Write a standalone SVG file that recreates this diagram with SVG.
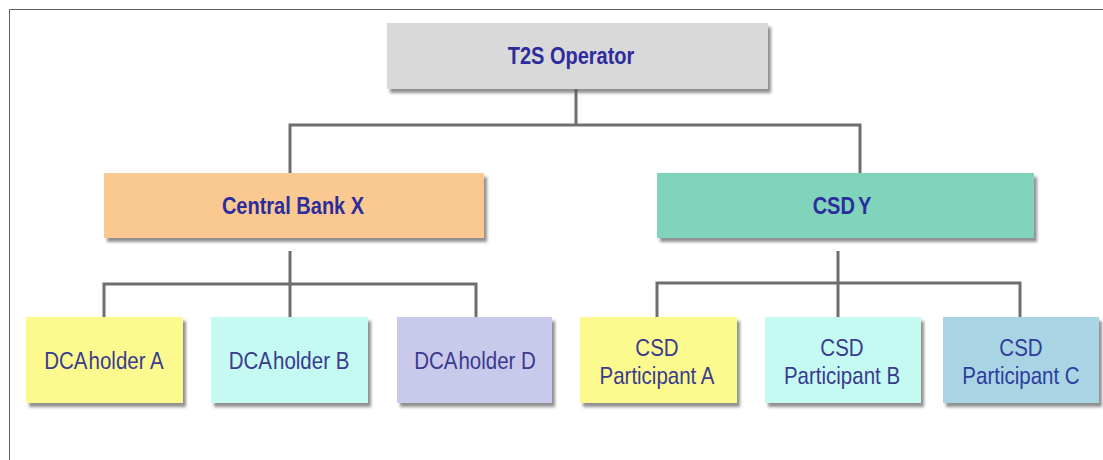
<svg xmlns="http://www.w3.org/2000/svg" width="1103" height="460" viewBox="0 0 1103 460">
<style>
.box{stroke:none;filter:url(#sh)}
.b{font-family:"Liberation Sans",Arial,sans-serif;font-weight:bold;font-size:20px;fill:#2c2c9c;text-anchor:middle}
.r{font-family:"Liberation Sans",Arial,sans-serif;font-size:20.5px;fill:#3a3a8e;text-anchor:middle}
.c{fill:#2e3c9e}
.con{fill:none;stroke:#6e6e6e;stroke-width:3}
</style>
<defs>
<filter id="sh" x="-10%" y="-20%" width="125%" height="150%">
<feDropShadow dx="3" dy="4" stdDeviation="1.8" flood-color="#555" flood-opacity="0.65"/>
</filter>
</defs>
<rect width="1103" height="460" fill="#fff"/>
<path d="M9.5 460V9.5H1103" fill="none" stroke="#606060" stroke-width="1"/>
<g id="connectors">
<path class="con" d="M576 89V125M290 173V125H860V173"/>
<path class="con" d="M290 251V284M104 317V284H476V317M290 284V317"/>
<path class="con" d="M838 251V283M657 317V283H1020V317M838 283V317"/>
</g>
<g id="t2s">
<rect class="box" x="387" y="23" width="381" height="66" fill="#d9d9d9"/>
<text class="b" transform="translate(571,64) scale(1,1.22)">T2S Operator</text>
</g>
<g id="cbx">
<rect class="box" x="104" y="173" width="380" height="65" fill="#f9c991"/>
<text class="b" transform="translate(293,214) scale(1,1.22)">Central Bank X</text>
</g>
<g id="csdy">
<rect class="box" x="657" y="173" width="377" height="65" fill="#80d4bc"/>
<text class="b" transform="translate(842,214) scale(1,1.22)" word-spacing="-2">CSD Y</text>
</g>
<g id="dcaA">
<rect class="box" x="26" y="317" width="157" height="86" fill="#fcfa8e"/>
<text class="r" transform="translate(104,369) scale(1,1.18)">DCA <tspan dx="-3.5">holder A</tspan></text>
</g>
<g id="dcaB">
<rect class="box" x="211" y="317" width="157" height="86" fill="#c4faf2"/>
<text class="r" transform="translate(289,369) scale(1,1.18)">DCA <tspan dx="-3.5">holder B</tspan></text>
</g>
<g id="dcaD">
<rect class="box" x="397" y="317" width="155" height="86" fill="#c9c9ec"/>
<text class="r" transform="translate(475,369) scale(1,1.18)">DCA <tspan dx="-3.5">holder D</tspan></text>
</g>
<g id="pA">
<rect class="box" x="580" y="317" width="157" height="86" fill="#fcfa8e"/>
<text class="r" transform="translate(657,356) scale(1,1.18)">CSD</text>
<text class="r" transform="translate(657,384) scale(1,1.18)">Participant A</text>
</g>
<g id="pB">
<rect class="box" x="765" y="317" width="156" height="86" fill="#c4faf2"/>
<text class="r" transform="translate(842,356) scale(1,1.18)">CSD</text>
<text class="r" transform="translate(842,384) scale(1,1.18)">Participant B</text>
</g>
<g id="pC">
<rect class="box" x="943" y="317" width="156" height="86" fill="#a8d4e3" stroke="#e8f4f8" stroke-width="1.5"/>
<text class="r c" transform="translate(1021,356) scale(1,1.18)">CSD</text>
<text class="r c" transform="translate(1021,384) scale(1,1.18)">Participant C</text>
</g>
</svg>
